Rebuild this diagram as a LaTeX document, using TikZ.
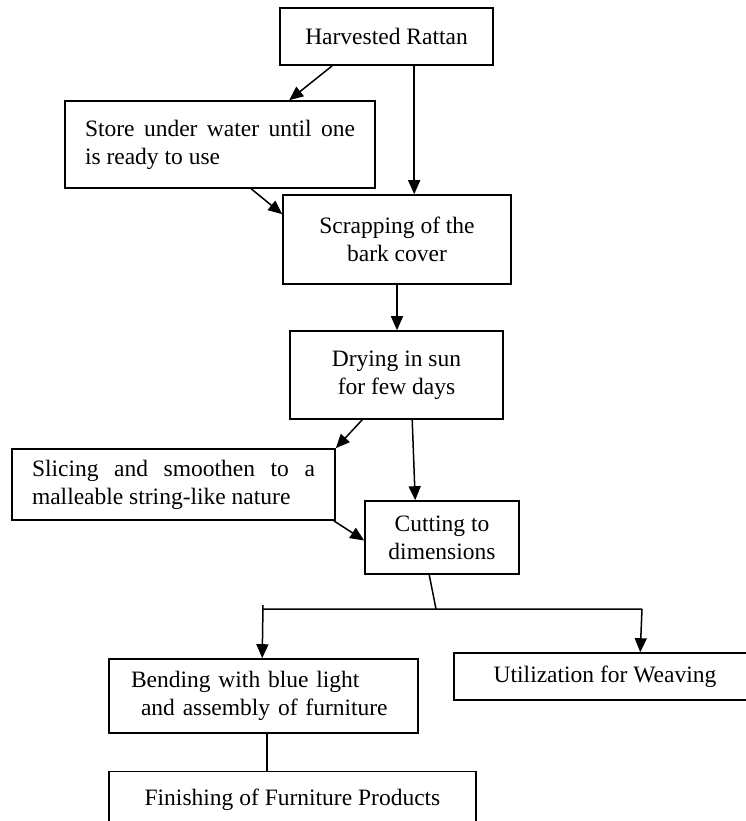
\documentclass[tikz,border=0pt]{standalone}
\usepackage{fontspec}
\setmainfont{Liberation Serif}
\usetikzlibrary{arrows.meta}

\begin{document}
\begin{tikzpicture}[x=1pt,y=-1pt,
  box/.style={draw,line width=1.6pt,inner sep=0pt,align=center,
    font=\fontsize{23.5}{28}\selectfont},
  flow/.style={line width=1.5pt,-{Triangle[length=14pt,width=12pt]}},
  link/.style={line width=1.5pt}]
\useasboundingbox (0,0) rectangle (746,821);
\node [box,minimum width=213,minimum height=57] (harvest) at (386.5,36.5) {Harvested Rattan};
\node [box,minimum width=310,minimum height=87,text width=270,inner xsep=20,align=justify] (store) at (220,144.5)
  {Store under water until one\linebreak is ready to use};
\node [box,minimum width=228,minimum height=89] (scrap) at (397,239.5) {Scrapping of the\\ bark cover};
\node [box,minimum width=213,minimum height=88] (dry) at (396.5,375) {Drying in sun\\for few days};
\node [box,minimum width=323,minimum height=71,text width=283,inner xsep=20,align=justify] (slice) at (173.5,484.5)
  {\raisebox{-5pt}{}Slicing and smoothen to a\linebreak malleable string-like nature};
\node [box,minimum width=154,minimum height=73] (cut) at (442,537.5) {Cutting to\\dimensions};
\node [box,minimum width=309,minimum height=74,text width=265,inner xsep=22,align=left] (bend) at (263.5,696)
  {Bending with blue light\\\hspace*{10pt}and assembly of furniture};
\node [box,minimum width=302,minimum height=47] (weave) at (605,676.5) {Utilization for Weaving};
\node [box,minimum width=367,minimum height=57] (finish) at (292.5,800) {Finishing of Furniture Products};
% split bar under the cutting box
\coordinate (split) at (436,609);
\coordinate (barl) at (263,609);
\coordinate (barr) at (642,609);

\draw [flow] ([xshift=53]harvest.south west) -- ([xshift=225]store.north west);
\draw [flow] ([xshift=135]harvest.south west) -- ([xshift=132]scrap.north west);
\draw [flow] ([xshift=187]store.south west) -- ([yshift=-20]scrap.north west);
\draw [flow] (scrap.south) -- (scrap.south |- dry.north);
\draw [flow] ([xshift=73]dry.south west) -- (slice.north east);
\draw [flow] ([xshift=123]dry.south west) -- ([xshift=51]cut.north west);
\draw [flow] ([xshift=-2]slice.south east) -- ([yshift=-3]cut.west);
\draw [link] ([xshift=65]cut.south west) -- (split)
  (barl) -- (barr);
\draw [flow] ([yshift=4]barl) -- ([xshift=154]bend.north west);
\draw [flow] (barr) -- ([xshift=187]weave.north west);
\draw [link] ([xshift=159]bend.south west) -- ([xshift=159]finish.north west);
\end{tikzpicture}
\end{document}
